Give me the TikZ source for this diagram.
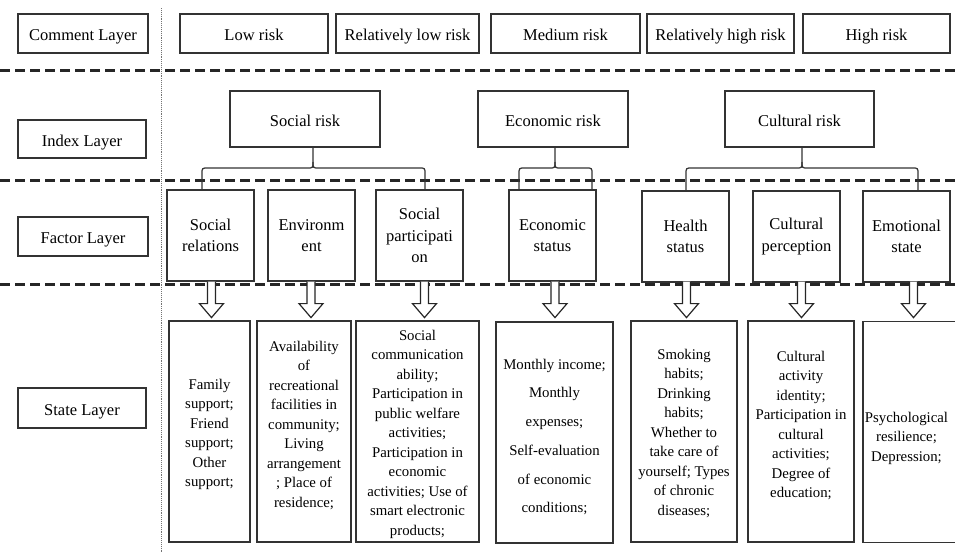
\documentclass[tikz,border=0pt]{standalone}
\usepackage{fontspec}
\setmainfont{Liberation Serif}
\usetikzlibrary{calc}
\tikzset{
  boxline/.style={draw=black!80, line width=1.2pt},
  lbl/.style={boxline, inner sep=0pt, align=center, font=\fontsize{16.5}{21.7}\selectfont},
  topbox/.style={lbl, minimum height=39pt, text height=14pt, text depth=0pt},
  riskbox/.style={lbl, minimum width=150pt, minimum height=56pt, text height=14pt, text depth=0pt},
  factorbox/.style={lbl, minimum width=87pt, minimum height=91pt},
  statebox/.style={boxline, inner sep=0pt, minimum height=221pt},
  statetext/.style={inner sep=0pt, align=center, font=\fontsize{14.8}{19.5}\selectfont},
  conn/.style={draw=black!80, line width=1.2pt},
  sep/.style={draw=black!85, line width=2.2pt, dash pattern=on 9.5pt off 5.5pt},
  harr/.style={draw=black!85, line width=1.2pt, fill=white, line join=miter},
  harrow/.pic={\draw[harr] (-4,0) -- (-4,22) -- (-12,22) -- (0,36) -- (12,22) -- (4,22) -- (4,0);}
}
\newcommand\riskbrace[6]{%
  \draw[conn] (#1.south -| #2,168) -- (#2,162) .. controls (#2,168) .. (#2-6,168) -- (#3+6,168) .. controls (#3,168) .. (#3,174) -- (#5.north -| #3,168);
  \draw[conn] (#2,162) .. controls (#2,168) .. (#2+6,168) -- (#4-6,168) .. controls (#4,168) .. (#4,174) -- (#6.north -| #4,168);
}
\begin{document}
\begin{tikzpicture}[x=1pt, y=-1pt]
\clip (0,0) rectangle (955,552);
\fill[white] (0,0) rectangle (955,552);

% separators
\draw[sep] (0,70.5) -- (955,70.5);
\draw[sep] (0,180.5) -- (955,180.5);
\draw[sep] (0,284.5) -- (955,284.5);
\draw[black!55, line width=0.9pt, densely dotted] (161,8) -- (161,552);

% comment layer
\node[topbox, minimum width=130pt] (comment) at (83,33.5) {Comment Layer};
\node[topbox, minimum width=148pt] (low) at (254,33.5) {Low risk};
\node[topbox, minimum width=143pt] (rlow) at (407.5,33.5) {Relatively low risk};
\node[topbox, minimum width=149pt] (med) at (565.5,33.5) {Medium risk};
\node[topbox, minimum width=147pt] (rhigh) at (720.5,33.5) {Relatively high risk};
\node[topbox, minimum width=147pt] (high) at (876.5,33.5) {High risk};

% index layer
\node[topbox, minimum width=128pt, minimum height=38pt] (index) at (82,139) {Index Layer};
\node[riskbox] (srisk) at (305,119) {Social risk};
\node[riskbox] (erisk) at (553,119) {Economic risk};
\node[riskbox, minimum width=149pt] (crisk) at (799.5,119) {Cultural risk};

% factor layer
\node[topbox, minimum width=130pt] (factor) at (83,236.5) {Factor Layer};
\node[factorbox] (sr) at (210.5,235.5) {Social\\relations};
\node[factorbox] (env) at (311.5,235.5) {Environm\\ent};
\node[factorbox] (sp) at (419.5,235.5) {Social\\participati\\on};
\node[factorbox] (es) at (552.5,235.5) {Economic\\status};
\node[factorbox] (hs) at (685.5,236.5) {Health\\status};
\node[factorbox] (cp) at (796.5,236.5) {Cultural\\perception};
\node[factorbox] (em) at (906.5,236.5) {Emotional\\state};

% braces
\riskbrace{srisk}{313}{202}{425}{sr}{sp}
\riskbrace{erisk}{555}{519}{592}{es}{es}
\riskbrace{crisk}{802}{686}{918}{hs}{em}

% state layer
\node[topbox, minimum width=128pt, minimum height=40pt] (state) at (82,408) {State Layer};
\node[statebox, minimum width=81pt] (fam) at (209.5,431.5) {};
\node[statetext] (famtxt) at (209.5,434.5) {Family\\support;\\Friend\\support;\\Other\\support;};
\node[statebox, minimum width=94pt] (avail) at (304,431.5) {};
\node[statetext] (availtxt) at (304,425) {Availability\\of\\recreational\\facilities in\\community;\\Living\\arrangement\\; Place of\\residence;};
\node[statebox, minimum width=123pt] (scom) at (417.5,431.5) {};
\node[statetext] (scomtxt) at (417.5,434) {Social\\communication\\ability;\\Participation in\\public welfare\\activities;\\Participation in\\economic\\activities; Use of\\smart electronic\\products;};
\node[statebox, minimum width=117pt] (mon) at (554.5,432.5) {};
\node[statetext, font=\fontsize{14.8}{28.7}\selectfont] (montxt) at (554.5,437) {Monthly income;\\Monthly\\expenses;\\Self-evaluation\\of economic\\conditions;};
\node[statebox, minimum width=106pt] (smok) at (684,431.5) {};
\node[statetext] (smoktxt) at (684,433) {Smoking\\habits;\\Drinking\\habits;\\Whether to\\take care of\\yourself; Types\\of chronic\\diseases;};
\node[statebox, minimum width=106pt] (cult) at (801,431.5) {};
\node[statetext] (culttxt) at (801,425.5) {Cultural\\activity\\identity;\\Participation in\\cultural\\activities;\\Degree of\\education;};
\node[statebox, minimum width=106pt] (psych) at (916,432) {};
\node[statetext] (psychtxt) at (906.5,438) {Psychological\\resilience;\\Depression;};

% hollow arrows
\pic at ([xshift=1pt]sr.south) {harrow};
\pic at ([xshift=-0.5pt]env.south) {harrow};
\pic at ([xshift=5pt]sp.south) {harrow};
\pic at ([xshift=2.5pt]es.south) {harrow};
\pic at ([xshift=1pt,yshift=1pt]hs.south) {harrow};
\pic at ([xshift=5pt,yshift=1pt]cp.south) {harrow};
\pic at ([xshift=7pt,yshift=1pt]em.south) {harrow};
\end{tikzpicture}
\end{document}
